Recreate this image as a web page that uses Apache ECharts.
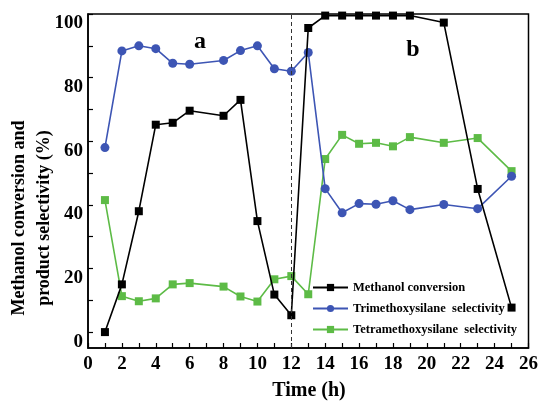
<!DOCTYPE html>
<html>
<head>
<meta charset="utf-8">
<script src="https://cdn.jsdelivr.net/npm/echarts@6/dist/echarts.min.js"></script>
<style>
    html, body { margin: 0; padding: 0; background: #fff; }
    #chart { width: 541px; height: 402px; }
</style>
</head>
<body>
<div id="chart"></div>
<script>
// ==============================================
// DATA
// ==============================================

const times = [1, 2, 3, 4, 5, 6, 8, 9, 10, 11, 12, 13, 14, 15, 16, 17, 18, 19, 21, 23, 25];
const methanolConv = [0, 15, 38, 65.2, 65.8, 69.6, 68, 73, 34.9, 11.8, 5.3, 95.6, 99.5, 99.5, 99.5, 99.5, 99.5, 99.5, 97.3, 45, 7.7];
const trimethoxySel = [58, 88.4, 90, 89.1, 84.5, 84.2, 85.4, 88.5, 90, 82.8, 82, 87.9, 45.1, 37.5, 40.4, 40.2, 41.3, 38.5, 40.1, 38.8, 49];
const tetramethoxySel = [41.5, 11.3, 9.7, 10.6, 15, 15.4, 14.3, 11.2, 9.6, 16.6, 17.6, 11.9, 54.4, 62, 59.2, 59.5, 58.4, 61.3, 59.5, 61, 50.6];

const seriesNames = ['Methanol conversion', 'Trimethoxysilane  selectivity', 'Tetramethoxysilane  selectivity'];
const xLabels = [0, 2, 4, 6, 8, 10, 12, 14, 16, 18, 20, 22, 24, 26];
const xTicks = [0, 1, 2, 3, 4, 5, 6, 7, 8, 9, 10, 11, 12, 13, 14, 15, 16, 17, 18, 19, 20, 21, 22, 23, 24, 25, 26];
const yLabels = [0, 20, 40, 60, 80, 100];
const yTicks = [0, 10, 20, 30, 40, 50, 60, 70, 80, 90, 100];
const switchTime = 12;

// ==============================================
// CHART
// ==============================================

const FONT = '"Liberation Serif", "Times New Roman", serif';

function pares(vals) {
    return times.map((t, i) => [t, vals[i]]);
}

function generarGrafico() {
    const chart = echarts.init(document.getElementById('chart'), null, { renderer: 'canvas' });

    const axisLine = { onZero: false, lineStyle: { color: '#000', width: 1.5 } };
    const axisTick = { inside: true, length: 5, lineStyle: { color: '#000', width: 1.2 } };
    const axisLabel = { color: '#000', fontFamily: FONT, fontWeight: 'bold', fontSize: 19 };

    const option = {
        animation: false,
        backgroundColor: '#fff',
        grid: { left: 88, right: 11, top: 14, bottom: 54, show: true, borderColor: '#000', borderWidth: 1.5, backgroundColor: 'transparent' },
        legend: {
            left: 307, top: 276, orient: 'vertical',
            itemWidth: 35, itemHeight: 9, itemGap: 8,
            textStyle: { color: '#000', fontFamily: FONT, fontWeight: 'bold', fontSize: 12.5 },
            data: seriesNames
        },
        xAxis: {
            type: 'value', min: 0, max: 26,
            axisLine: axisLine,
            axisTick: Object.assign({}, axisTick, { customValues: xTicks }),
            axisLabel: Object.assign({}, axisLabel, { customValues: xLabels, margin: 7 }),
            splitLine: { show: false }
        },
        yAxis: {
            type: 'value', min: -5, max: 100,
            axisLine: axisLine,
            axisTick: Object.assign({}, axisTick, { customValues: yTicks }),
            axisLabel: Object.assign({}, axisLabel, { customValues: yLabels, margin: 5, verticalAlign: 'top' }),
            splitLine: { show: false }
        },
        graphic: [
            {
                type: 'text', x: 32, y: 218, rotation: Math.PI / 2,
                style: {
                    text: 'Methanol conversion and\nproduct selectivity (%)',
                    font: 'bold 18px ' + FONT, fill: '#000',
                    align: 'center', verticalAlign: 'middle', lineHeight: 25
                }
            },
            { type: 'text', x: 309, y: 391, style: { text: 'Time (h)', font: 'bold 20px ' + FONT, fill: '#000', align: 'center', verticalAlign: 'middle' } },
            { type: 'text', x: 200, y: 42, style: { text: 'a', font: 'bold 24px ' + FONT, fill: '#000', align: 'center', verticalAlign: 'middle' } },
            { type: 'text', x: 413, y: 50, style: { text: 'b', font: 'bold 24px ' + FONT, fill: '#000', align: 'center', verticalAlign: 'middle' } }
        ],
        series: [
            {
                name: seriesNames[2], type: 'line', data: pares(tetramethoxySel),
                symbol: 'rect', symbolSize: 8,
                lineStyle: { color: '#5dbb46', width: 1.6 },
                itemStyle: { color: '#5dbb46' }, z: 2
            },
            {
                name: seriesNames[1], type: 'line', data: pares(trimethoxySel),
                symbol: 'circle', symbolSize: 9,
                lineStyle: { color: '#3d55b4', width: 1.6 },
                itemStyle: { color: '#3d55b4' }, z: 3
            },
            {
                name: seriesNames[0], type: 'line', data: pares(methanolConv),
                symbol: 'rect', symbolSize: 8,
                lineStyle: { color: '#000', width: 1.6 },
                itemStyle: { color: '#000' }, z: 4,
                markLine: {
                    silent: true, symbol: 'none', label: { show: false },
                    lineStyle: { color: '#333', width: 1, type: [4, 3] },
                    data: [{ xAxis: switchTime }]
                }
            }
        ]
    };

    chart.setOption(option);
}

document.addEventListener('DOMContentLoaded', generarGrafico);
</script>
</body>
</html>
